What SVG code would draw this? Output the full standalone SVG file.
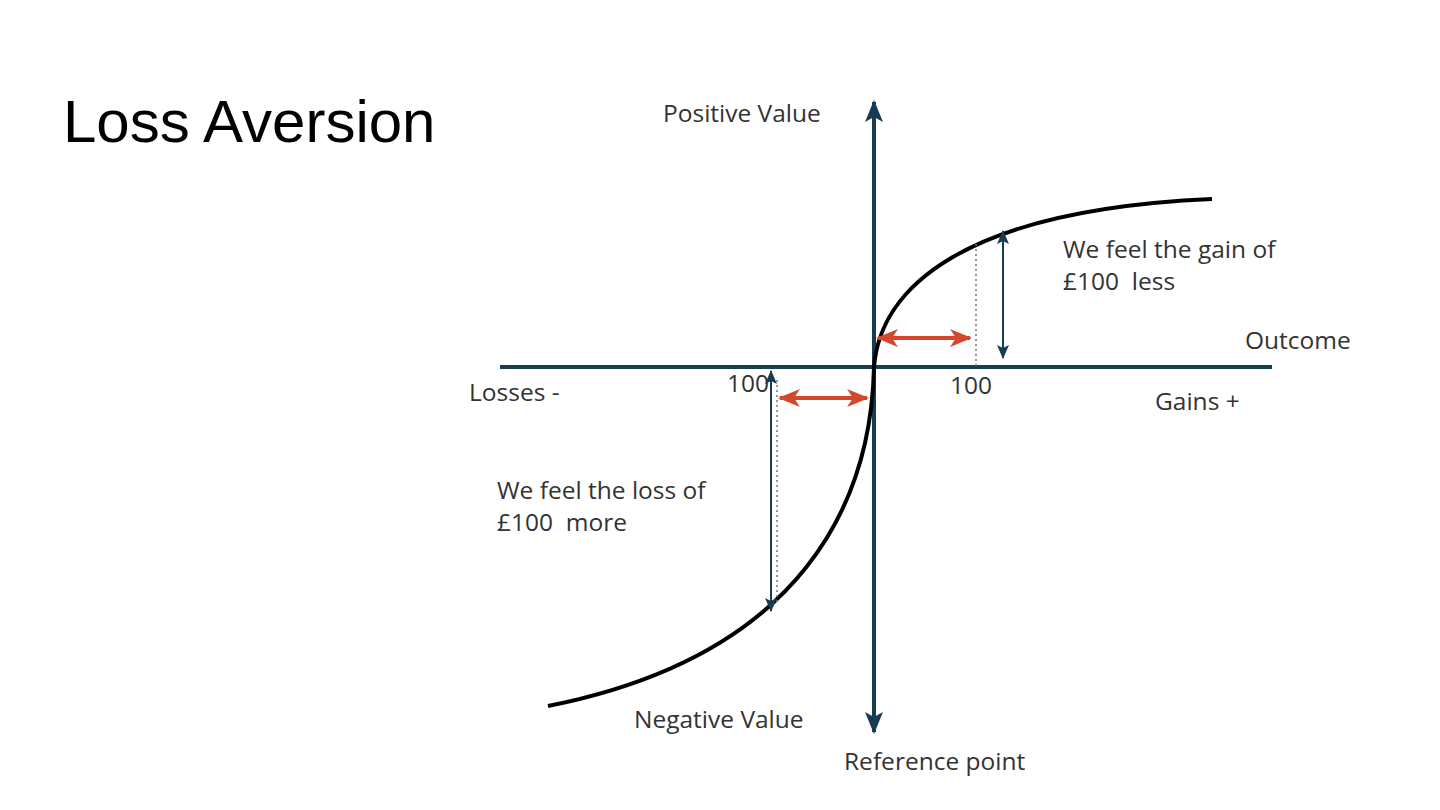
<svg xmlns="http://www.w3.org/2000/svg" width="1440" height="810" viewBox="0 0 1440 810">
<defs>
<style>
.lbl{font-family:"Open Sans","Noto Sans","Liberation Sans",sans-serif;font-size:24.5px;fill:#333;}
.axis{stroke:#183c52;stroke-width:4;fill:none;}
.thin{stroke:#183c52;stroke-width:2;fill:none;}
.red{stroke:#d4472c;stroke-width:4;fill:none;}
.curve{stroke:#000;stroke-width:4;fill:none;}
.dot{stroke:#777;stroke-width:1.5;stroke-dasharray:2 3;fill:none;}
</style>
<marker id="ah" viewBox="-22 -10 24 20" refX="0" refY="0" markerWidth="24" markerHeight="20" orient="auto-start-reverse" markerUnits="userSpaceOnUse">
<path d="M2,0 L-20,-9 L-15,0 L-20,9 Z" fill="#183c52"/>
</marker>
<marker id="rh" viewBox="-22 -10 24 20" refX="0" refY="0" markerWidth="24" markerHeight="20" orient="auto-start-reverse" markerUnits="userSpaceOnUse">
<path d="M2,0 L-20,-9 L-14,0 L-20,9 Z" fill="#d4472c"/>
</marker>
<marker id="th" viewBox="-14 -7 16 14" refX="0" refY="0" markerWidth="16" markerHeight="14" orient="auto-start-reverse" markerUnits="userSpaceOnUse">
<path d="M1,0 L-13,-6 L-10,0 L-13,6 Z" fill="#183c52"/>
</marker>
</defs>
<rect width="1440" height="810" fill="#fff"/>
<text id="title" x="63" y="142" font-family="Liberation Sans, Arial, sans-serif" font-size="60" fill="#000">Loss Aversion</text>
<g id="connectors">
<line class="axis" x1="500" y1="367" x2="1272" y2="367"/>
<line class="axis" x1="874" y1="102" x2="874" y2="732" marker-start="url(#ah)" marker-end="url(#ah)"/>
<path class="curve" d="M874,367 C880,290 960,210 1212,199"/>
<path class="curve" d="M874,367 C871,500 805,655 548,706"/>
<line class="dot" x1="976" y1="244" x2="976" y2="366"/>
<line class="dot" x1="777" y1="380" x2="777" y2="605"/>
<line class="thin" x1="1003" y1="231" x2="1003" y2="358" marker-start="url(#th)" marker-end="url(#th)"/>
<line class="thin" x1="771" y1="371" x2="771" y2="611" marker-start="url(#th)" marker-end="url(#th)"/>
<line class="red" x1="878" y1="338" x2="970" y2="338" marker-start="url(#rh)" marker-end="url(#rh)"/>
<line class="red" x1="780" y1="398" x2="867" y2="398" marker-start="url(#rh)" marker-end="url(#rh)"/>
</g>
<g id="labels">
<text class="lbl" x="663" y="122">Positive Value</text>
<text class="lbl" x="1063" y="258">We feel the gain of</text>
<text class="lbl" x="1063" y="290" xml:space="preserve">£100  less</text>
<text class="lbl" x="1245" y="349">Outcome</text>
<text class="lbl" x="469" y="401">Losses -</text>
<text class="lbl" x="727" y="392" font-size="20">100</text>
<text class="lbl" x="950" y="394" font-size="20">100</text>
<text class="lbl" x="1155" y="410">Gains +</text>
<text class="lbl" x="497" y="499">We feel the loss of</text>
<text class="lbl" x="497" y="531" xml:space="preserve">£100  more</text>
<text class="lbl" x="634" y="728">Negative Value</text>
<text class="lbl" x="844" y="770">Reference point</text>
</g>
</svg>
